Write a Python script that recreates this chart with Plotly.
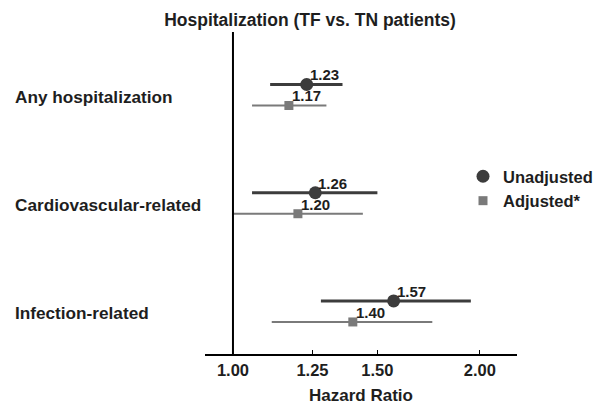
import math
import plotly.graph_objects as go

categories = ["Any hospitalization", "Cardiovascular-related", "Infection-related"]
unadj_hr = [1.23, 1.26, 1.57]
unadj_lo = [1.11, 1.055, 1.28]
unadj_hi = [1.36, 1.50, 1.95]
adj_hr = [1.17, 1.20, 1.40]
adj_lo = [1.055, 1.00, 1.115]
adj_hi = [1.30, 1.44, 1.75]
tick_vals = [1.00, 1.25, 1.50, 2.00]
tick_text = ["1.00", "1.25", "1.50", "2.00"]

pos = list(range(len(categories)))
off = 0.097
FONT = "Liberation Sans, Arial, sans-serif"
c_un = "#3c3c3c"
c_ad = "#7a7a7a"
c_txt = "#1e1e1e"

fig = go.Figure()
fig.add_trace(go.Scatter(
    x=unadj_hr, y=[p - off for p in pos], mode="markers",
    name="Unadjusted",
    marker=dict(symbol="circle", size=13, color=c_un),
    error_x=dict(type="data", symmetric=False,
                 array=[h - v for h, v in zip(unadj_hi, unadj_hr)],
                 arrayminus=[v - l for l, v in zip(unadj_lo, unadj_hr)],
                 width=0, thickness=3, color=c_un),
))
fig.add_trace(go.Scatter(
    x=adj_hr, y=[p + off for p in pos], mode="markers",
    name="Adjusted*",
    marker=dict(symbol="square", size=9, color=c_ad),
    error_x=dict(type="data", symmetric=False,
                 array=[h - v for h, v in zip(adj_hi, adj_hr)],
                 arrayminus=[v - l for l, v in zip(adj_lo, adj_hr)],
                 width=0, thickness=2, color=c_ad),
))

# value labels (annotation x on a log axis is given in log10 units)
for vals, dy in ((unadj_hr, -off), (adj_hr, off)):
    for p, v in zip(pos, vals):
        fig.add_annotation(x=math.log10(v), xref="x", y=p + dy, yref="y", text=f"{v:.2f}",
                           showarrow=False, xanchor="left", yanchor="bottom",
                           xshift=1, yshift=-1,
                           font=dict(family=FONT, size=15, color=c_txt, weight="bold"))

for p, c in zip(pos, categories):
    fig.add_annotation(x=(13 - 205) / 312, xref="paper", y=p, yref="y", text=c,
                       showarrow=False, xanchor="left", yanchor="middle", yshift=-2,
                       font=dict(family=FONT, size=17.2, color=c_txt, weight="bold"))

fig.add_shape(type="line", x0=1.0, x1=1.0, xref="x", y0=0, y1=1, yref="paper",
              line=dict(color="black", width=2))

fig.update_layout(
    width=598, height=405,
    margin=dict(l=205, r=81, t=32, b=51, autoexpand=False),
    paper_bgcolor="white", plot_bgcolor="white",
    title=dict(text="Hospitalization (TF vs. TN patients)", x=310 / 598, xanchor="center",
               y=1 - 20 / 405, yanchor="middle", automargin=False,
               font=dict(family=FONT, size=17.5, color=c_txt, weight="bold")),
    xaxis=dict(type="log", range=[-0.0341, 0.3463], tickvals=tick_vals, ticktext=tick_text,
               automargin=False,
               showgrid=False, zeroline=False, showline=True, linecolor="black", linewidth=2,
               ticks="inside", ticklen=4, tickcolor="black", tickwidth=1,
               tickfont=dict(family=FONT, size=16.5, color=c_txt, weight="bold"),
               title=dict(text="Hazard Ratio", standoff=12,
                          font=dict(family=FONT, size=17, color=c_txt, weight="bold"))),
    yaxis=dict(range=[2.393, -0.582], visible=False, showgrid=False, zeroline=False,
               automargin=False),
    legend=dict(x=(463 - 205) / 312, y=(354 - 159) / 322, xanchor="left", yanchor="top",
                font=dict(family=FONT, size=16.5, color=c_txt, weight="bold"),
                bgcolor="rgba(0,0,0,0)", itemwidth=30),
)

fig.write_html("out.html", config={"displayModeBar": False},
               post_script="document.body.style.margin='0px';")
